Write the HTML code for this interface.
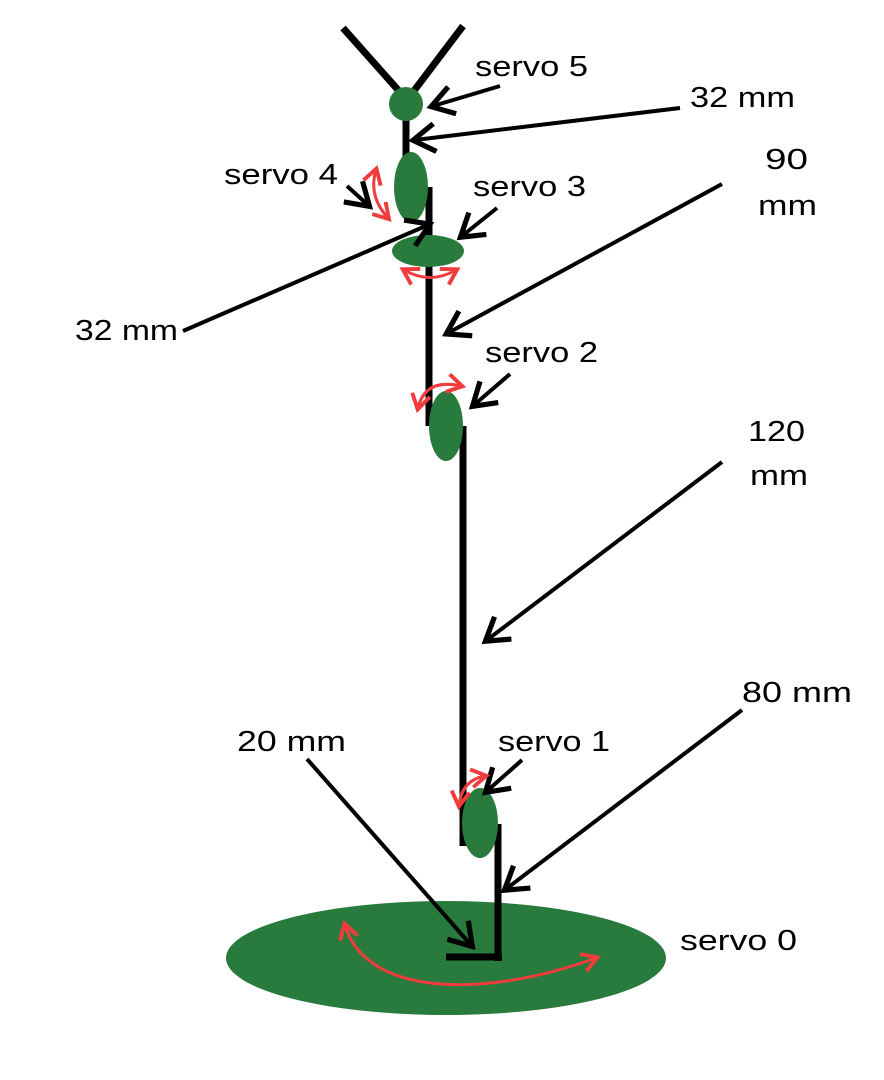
<!DOCTYPE html>
<html><head><meta charset="utf-8"><style>
html,body{margin:0;padding:0;background:#fff;}
svg{display:block}
text{font-family:"Liberation Sans",sans-serif;font-size:29px;fill:#000}
</style></head><body>
<svg width="884" height="1080" viewBox="0 0 884 1080" xmlns="http://www.w3.org/2000/svg">
<defs>
<marker id="ah" markerWidth="8" markerHeight="8" refX="6" refY="4" orient="auto" markerUnits="strokeWidth">
<path d="M1,0.5 L6.5,4 L1,7.5" fill="none" stroke="#000" stroke-width="1.3"/>
</marker>
<marker id="rh" markerWidth="8" markerHeight="8" refX="6" refY="4" orient="auto" markerUnits="strokeWidth">
<path d="M1.5,1 L6.5,4 L1.5,7" fill="none" stroke="#f03c3c" stroke-width="1.3"/>
</marker>
<marker id="rt" markerWidth="8" markerHeight="8" refX="6" refY="4" orient="auto-start-reverse" markerUnits="strokeWidth">
<path d="M1.5,1 L6.5,4 L1.5,7" fill="none" stroke="#f03c3c" stroke-width="1.3"/>
</marker>
</defs>
<ellipse cx="446" cy="958" rx="220" ry="57" fill="#287a3d"/>
<g stroke="#000" stroke-width="7" fill="none">
<line x1="343" y1="28" x2="407" y2="100"/>
<line x1="463" y1="26" x2="407" y2="100"/>
<line x1="406" y1="118" x2="406" y2="186"/>
<line x1="429" y1="187" x2="429" y2="252"/>
<line x1="429" y1="250" x2="429" y2="426"/>
<line x1="463" y1="426" x2="463" y2="846"/>
<line x1="498" y1="824" x2="498" y2="961"/>
<line x1="446" y1="957" x2="502" y2="957"/>
</g>
<g fill="#287a3d">
<ellipse cx="406" cy="104" rx="17" ry="17"/>
<ellipse cx="411" cy="187" rx="17" ry="35"/>
<ellipse cx="428" cy="251" rx="36" ry="16"/>
<ellipse cx="446" cy="426" rx="17" ry="35"/>
<ellipse cx="480" cy="823" rx="18" ry="35"/>
</g>
<g stroke="#000" stroke-width="4" fill="none" marker-end="url(#ah)">
<line x1="500" y1="86" x2="433" y2="106"/>
<line x1="680" y1="108" x2="415" y2="140"/>
<line x1="347" y1="186" x2="368" y2="205"/>
<line x1="497" y1="208" x2="462" y2="236"/>
<line x1="183" y1="331" x2="428" y2="225"/>
<line x1="722" y1="184" x2="448" y2="333"/>
<line x1="510" y1="374" x2="474" y2="405"/>
<line x1="722" y1="462" x2="487" y2="640"/>
<line x1="522" y1="760" x2="487" y2="791"/>
<line x1="742" y1="710" x2="506" y2="889"/>
<line x1="307" y1="759" x2="471" y2="945"/>
</g>
<g stroke="#f03c3c" stroke-width="3" fill="none" marker-start="url(#rt)" marker-end="url(#rh)">
<path d="M376,170 Q368,196 388,218"/>
<path d="M404,270 Q430,285 456,270"/>
<path d="M418,408 Q425,378 461,386"/>
<path d="M459,805 Q462,780 485,776"/>
<path d="M345,925 C365,995 480,1000 596,958"/>
</g>
<g>
<text x="475" y="76" textLength="113" lengthAdjust="spacingAndGlyphs">servo 5</text>
<text x="690" y="107" textLength="105" lengthAdjust="spacingAndGlyphs">32 mm</text>
<text x="224" y="184" textLength="114" lengthAdjust="spacingAndGlyphs">servo 4</text>
<text x="473" y="196" textLength="113" lengthAdjust="spacingAndGlyphs">servo 3</text>
<text x="765" y="169" textLength="43" lengthAdjust="spacingAndGlyphs">90</text>
<text x="758" y="215" textLength="59" lengthAdjust="spacingAndGlyphs">mm</text>
<text x="75" y="340" textLength="103" lengthAdjust="spacingAndGlyphs">32 mm</text>
<text x="485" y="362" textLength="113" lengthAdjust="spacingAndGlyphs">servo 2</text>
<text x="748" y="441" textLength="57" lengthAdjust="spacingAndGlyphs">120</text>
<text x="750" y="485" textLength="58" lengthAdjust="spacingAndGlyphs">mm</text>
<text x="742" y="702" textLength="110" lengthAdjust="spacingAndGlyphs">80 mm</text>
<text x="237" y="751" textLength="109" lengthAdjust="spacingAndGlyphs">20 mm</text>
<text x="498" y="751" textLength="112" lengthAdjust="spacingAndGlyphs">servo 1</text>
<text x="680" y="950" textLength="117" lengthAdjust="spacingAndGlyphs">servo 0</text>
</g>
</svg>
</body></html>
